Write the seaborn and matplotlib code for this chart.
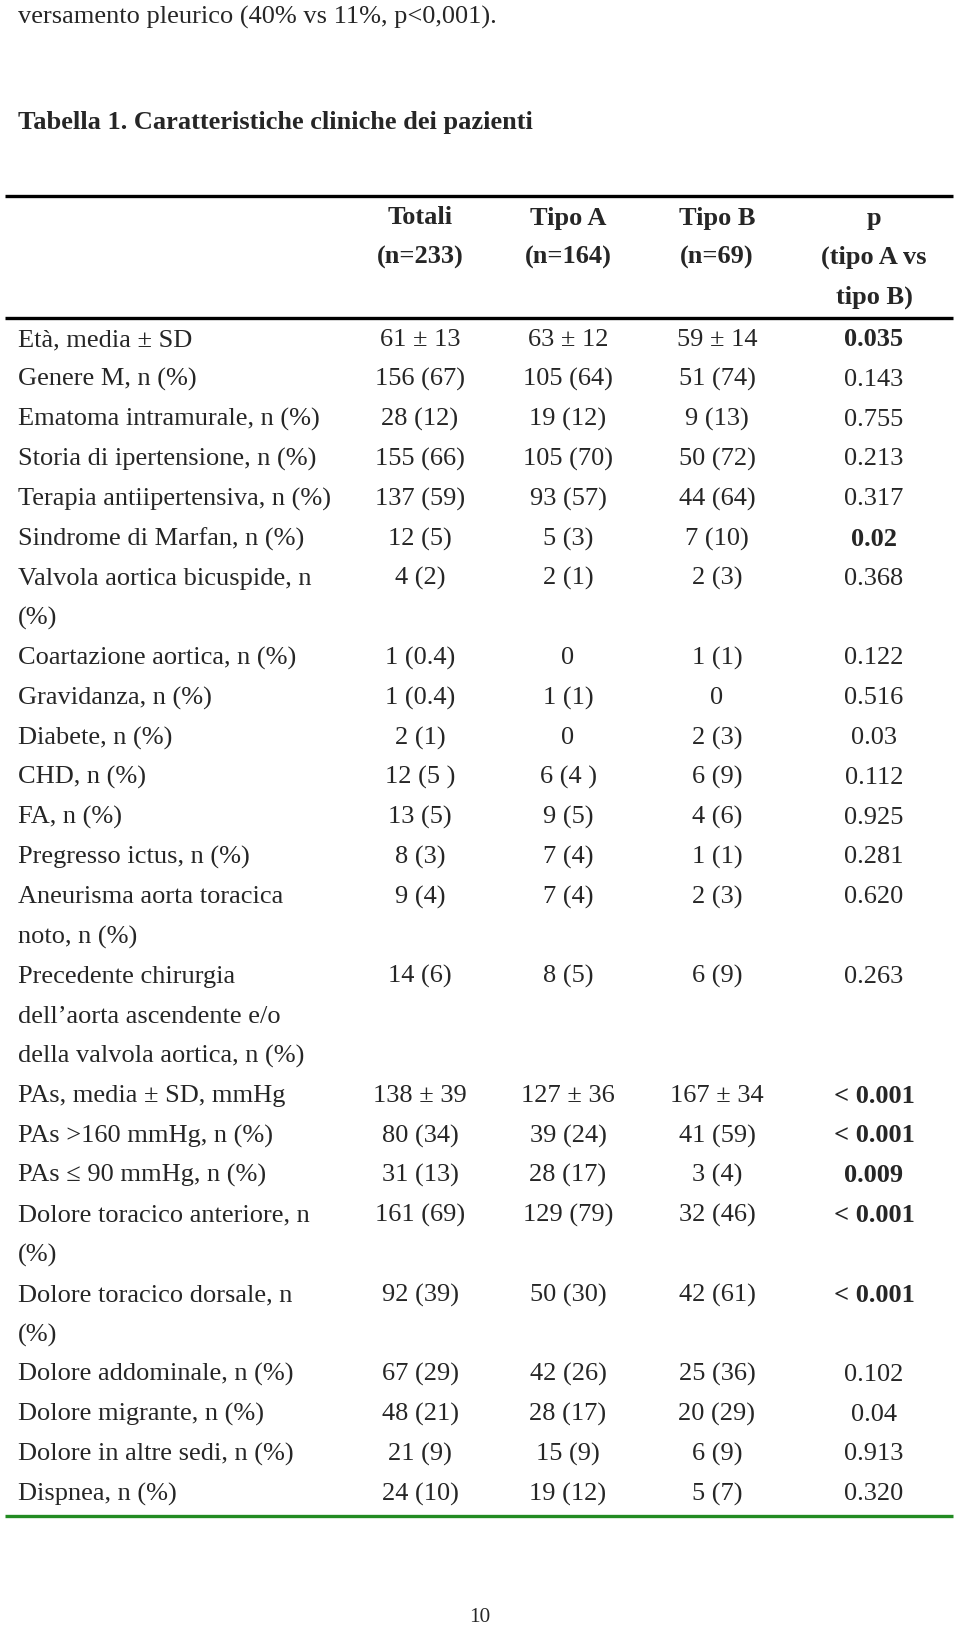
import seaborn as sns
import matplotlib.pyplot as plt

# Tabella 1 - caratteristiche cliniche dei pazienti
sns.set_theme(style="white")
plt.rcParams["font.family"] = ["Liberation Serif", "DejaVu Serif"]

header_cols = ["Totali\n(n=233)", "Tipo A\n(n=164)", "Tipo B\n(n=69)", "p\n(tipo A vs\ntipo B)"]

labels = [
    "Età, media ± SD",
    "Genere M, n (%)",
    "Ematoma intramurale, n (%)",
    "Storia di ipertensione, n (%)",
    "Terapia antiipertensiva, n (%)",
    "Sindrome di Marfan, n (%)",
    "Valvola aortica bicuspide, n\n(%)",
    "Coartazione aortica, n (%)",
    "Gravidanza, n (%)",
    "Diabete, n (%)",
    "CHD, n (%)",
    "FA, n (%)",
    "Pregresso ictus, n (%)",
    "Aneurisma aorta toracica\nnoto, n (%)",
    "Precedente chirurgia\ndell\u2019aorta ascendente e/o\ndella valvola aortica, n (%)",
    "PAs, media ± SD, mmHg",
    "PAs >160 mmHg, n (%)",
    "PAs \u2264 90 mmHg, n (%)",
    "Dolore toracico anteriore, n\n(%)",
    "Dolore toracico dorsale, n\n(%)",
    "Dolore addominale, n (%)",
    "Dolore migrante, n (%)",
    "Dolore in altre sedi, n (%)",
    "Dispnea, n (%)",
]

totali = ["61 ± 13", "156 (67)", "28 (12)", "155 (66)", "137 (59)", "12 (5)", "4 (2)",
          "1 (0.4)", "1 (0.4)", "2 (1)", "12 (5 )", "13 (5)", "8 (3)", "9 (4)", "14 (6)",
          "138 ± 39", "80 (34)", "31 (13)", "161 (69)", "92 (39)", "67 (29)", "48 (21)",
          "21 (9)", "24 (10)"]
tipo_a = ["63 ± 12", "105 (64)", "19 (12)", "105 (70)", "93 (57)", "5 (3)", "2 (1)",
          "0", "1 (1)", "0", "6 (4 )", "9 (5)", "7 (4)", "7 (4)", "8 (5)",
          "127 ± 36", "39 (24)", "28 (17)", "129 (79)", "50 (30)", "42 (26)", "28 (17)",
          "15 (9)", "19 (12)"]
tipo_b = ["59 ± 14", "51 (74)", "9 (13)", "50 (72)", "44 (64)", "7 (10)", "2 (3)",
          "1 (1)", "0", "2 (3)", "6 (9)", "4 (6)", "1 (1)", "2 (3)", "6 (9)",
          "167 ± 34", "41 (59)", "3 (4)", "32 (46)", "42 (61)", "25 (36)", "20 (29)",
          "6 (9)", "5 (7)"]
p_values = ["0.035", "0.143", "0.755", "0.213", "0.317", "0.02", "0.368",
            "0.122", "0.516", "0.03", "0.112", "0.925", "0.281", "0.620", "0.263",
            "< 0.001", "< 0.001", "0.009", "< 0.001", "< 0.001", "0.102", "0.04",
            "0.913", "0.320"]
p_bold = [True, False, False, False, False, True, False,
          False, False, False, False, False, False, False, False,
          True, True, True, True, True, False, False,
          False, False]

W, H = 960, 1625
fig = plt.figure(figsize=(W / 100, H / 100), dpi=100)
ax = fig.add_axes([0, 0, 1, 1])
ax.set_xlim(0, W)
ax.set_ylim(H, 0)
ax.axis("off")

fs = 19
line_h = 39.8
x_label = 18
x_cols = [420, 568, 717, 874]
dy = 3  # small shift so text centres sit like the scan

ax.text(x_label, 14 + dy, "versamento pleurico (40% vs 11%, p<0,001).", fontsize=fs, va="center")
ax.text(x_label, 119 + dy, "Tabella 1. Caratteristiche cliniche dei pazienti", fontsize=fs,
        fontweight="bold", va="center")

# header
ax.plot([5, 953], [196, 196], color="black", lw=2.4, solid_capstyle="butt")
for x, h in zip(x_cols, header_cols):
    for k, part in enumerate(h.split("\n")):
        ax.text(x, 215 + dy + k * 39.5, part, fontsize=fs, fontweight="bold", ha="center", va="center")
ax.plot([5, 953], [318, 318], color="black", lw=2.4, solid_capstyle="butt")

# body
y = 337 + dy
for i, lab in enumerate(labels):
    parts = lab.split("\n")
    for k, part in enumerate(parts):
        ax.text(x_label, y + k * line_h, part, fontsize=fs, va="center")
    for x, col in zip(x_cols[:3], [totali, tipo_a, tipo_b]):
        ax.text(x, y, col[i], fontsize=fs, ha="center", va="center")
    ax.text(x_cols[3], y, p_values[i], fontsize=fs, ha="center", va="center",
            fontweight="bold" if p_bold[i] else "normal")
    y += line_h * len(parts)

ax.plot([5, 953], [1516, 1516], color="#228b22", lw=2.4, solid_capstyle="butt")
ax.text(480, 1617, "10", fontsize=fs * 0.8, ha="center", va="center")

fig.savefig("out.png", dpi=100)
